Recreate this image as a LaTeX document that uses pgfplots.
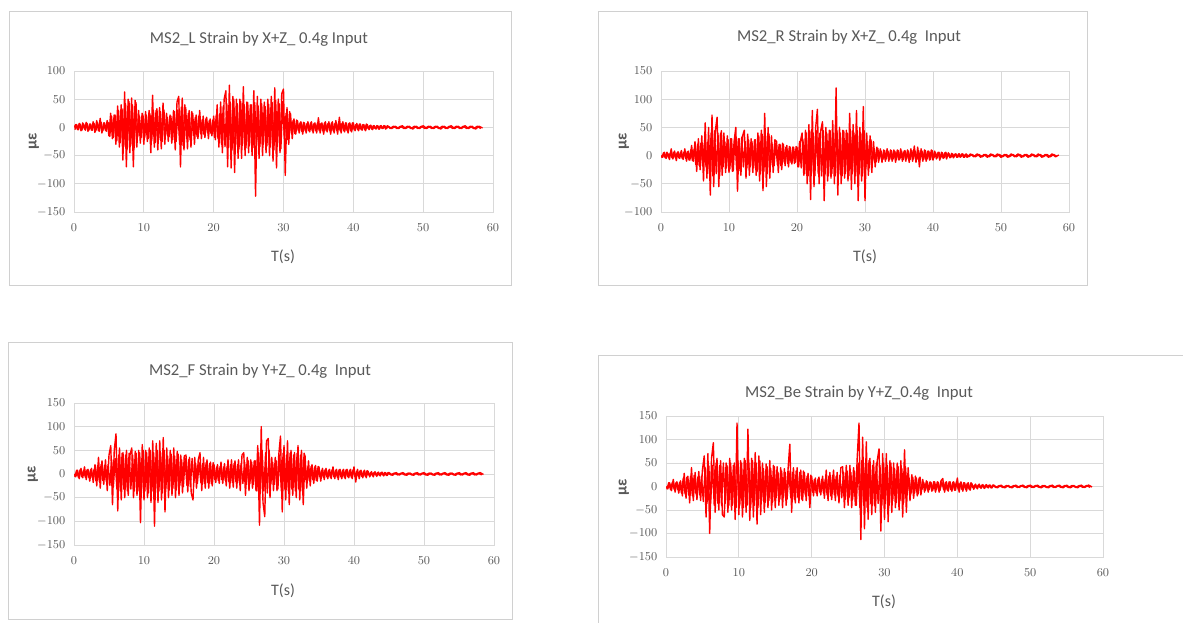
\documentclass[border=0pt]{standalone}
\usepackage{fontspec}
\setmainfont{Carlito}
\usepackage{pgfplots}
\pgfplotsset{compat=1.18}
\usepackage{pgfplotstable}

\definecolor{txtgray}{HTML}{595959}
\definecolor{gridgray}{HTML}{D9D9D9}
\definecolor{framegray}{HTML}{D0D0D0}

% strain records, micro-strain (peaks)
\pgfplotstableread{
t L R F Be
0 0 0 0 0
0.25 5 -3 -6 -5
0.5 -4 6 8 8
0.75 7 -5 -10 -9
1.0 -6 4 12 15
1.25 8 -7 -8 -12
1.5 -3 12 15 10
1.75 9 -6 -12 -14
2.0 -7 8 10 12
2.25 6 -9 -15 -20
2.5 -5 7 12 28
2.75 10 -5 -18 -25
3.0 -9 9 20 22
3.25 12 -7 -25 -35
3.5 -6 12 35 40
3.75 16 -10 -30 -30
4.0 -10 8 28 30
4.25 8 -8 -22 -28
4.5 -5 18 30 32
4.75 12 -10 -35 -30
5.0 -15 25 40 35
5.25 25 -28 60 65
5.5 -20 30 -65 -65
5.75 22 -25 50 70
6.0 -30 35 85 -100
6.25 38 -45 -78 60
6.5 -35 58 55 93
6.75 40 -40 -55 -55
7.0 -58 50 45 60
7.25 63 -70 -50 -50
7.5 -70 72 50 55
7.75 50 -55 -45 -60
8.0 -45 45 40 -65
8.25 52 68 55 50
8.5 -70 -55 -50 -55
8.75 48 40 48 60
9.0 -35 -35 -45 -50
9.25 30 40 50 45
9.5 -28 -30 -103 -70
9.75 25 35 62 135
10.0 -30 -30 -55 -60
10.25 28 30 50 55
10.5 -25 -28 -50 -65
10.75 30 25 55 60
11.0 -45 50 -60 -55
11.25 57 -63 70 122
11.5 -35 30 -110 -72
11.75 30 -35 65 60
12.0 -40 35 -60 -65
12.25 35 45 70 72
12.5 -38 -40 -55 -80
12.75 43 38 77 65
13.0 -30 -35 -80 -60
13.25 25 30 55 50
13.5 -25 -30 -50 -55
13.75 22 28 50 48
14.0 -28 -35 -45 -45
14.25 30 40 55 55
14.5 -40 -45 -50 -50
14.75 45 45 48 45
15.0 55 -62 -45 -45
15.25 -70 75 40 42
15.5 52 -55 -40 -40
15.75 -40 50 38 40
16.0 35 -40 40 -45
16.25 -38 35 -38 38
16.5 30 -30 35 -40
16.75 -35 28 -40 35
17.0 25 25 -55 90
17.25 -30 -30 35 -55
17.5 22 20 -30 40
17.75 -20 -25 30 -35
18.0 30 20 45 40
18.25 -20 -18 -35 -35
18.5 20 18 35 35
18.75 -18 -20 -30 -30
19.0 18 15 30 30
19.25 -20 -15 -30 -30
19.5 15 15 25 28
19.75 -15 -12 -25 -45
20.0 20 15 20 22
20.25 -22 -20 -18 -20
20.5 40 25 20 18
20.75 -35 40 -20 -20
21.0 45 -35 25 20
21.25 -45 45 -20 -18
21.5 50 -50 22 22
21.75 65 55 -25 -25
22.0 -70 -78 30 35
22.25 75 80 -30 -30
22.5 -72 -55 30 30
22.75 55 50 -28 -28
23.0 -80 82 28 35
23.25 50 -50 -30 -30
23.5 -55 45 30 30
23.75 50 60 -35 -35
24.0 -55 -80 40 40
24.25 72 50 45 42
24.5 -50 -45 -45 -45
24.75 45 45 35 45
25.0 -45 -40 -35 -40
25.25 40 62 30 45
25.5 -50 -50 -30 -45
25.75 65 120 28 40
26.0 -122 -70 -35 -40
26.25 55 50 60 60
26.5 -55 -50 -108 135
26.75 50 45 100 -113
27.0 -50 -40 -60 105
27.25 45 45 -90 -90
27.5 -45 -45 70 95
27.75 50 75 75 -70
28.0 -50 -60 -50 60
28.25 55 55 35 -60
28.5 -60 -50 -35 55
28.75 70 80 35 -55
29.0 -72 -80 -35 55
29.25 50 50 40 80
29.5 -45 -45 80 -95
29.75 60 87 -80 70
30.0 68 -80 60 -70
30.25 -85 40 -55 70
30.5 35 -35 70 -75
30.75 -30 35 -65 55
31.0 25 -30 50 -55
31.25 -20 25 -45 50
31.5 15 -20 45 -45
31.75 -12 15 -50 50
32.0 12 -12 60 -50
32.25 -10 12 -55 55
32.5 10 -12 50 -65
32.75 -12 10 -65 78
33.0 8 -10 40 -55
33.25 -10 12 -30 40
33.5 10 -10 28 -30
33.75 -8 10 -25 25
34.0 10 -10 20 -25
34.25 -10 10 -20 22
34.5 8 -12 18 -20
34.75 -10 10 -15 18
35.0 17 -8 15 -18
35.25 -10 12 -15 15
35.5 8 -10 12 -12
35.75 -12 8 -12 12
36.0 10 -10 12 -12
36.25 -8 10 -10 10
36.5 10 -12 10 -10
36.75 -12 12 -10 10
37.0 10 -10 15 -12
37.25 -10 17 -10 10
37.5 12 -12 10 -12
37.75 -12 15 -12 12
38.0 18 -20 10 17
38.25 -10 12 -10 -12
38.5 10 -10 10 10
38.75 -8 10 -10 -10
39.0 8 -10 10 10
39.25 -10 8 -8 -10
39.5 8 -8 10 10
39.75 -8 10 -10 -8
40.0 8 -8 15 18
40.25 -6 8 -17 -12
40.5 7 -6 10 10
40.75 -6 6 -10 -10
41.0 6 -8 8 8
41.25 -5 6 -8 -10
41.5 5 -5 8 8
41.75 -6 5 -8 -8
42.0 5 -6 6 6
42.25 -4 5 -6 -6
42.5 4 -4 5 5
42.75 -4 4 -6 -5
43.0 3 -4 5 5
43.25 -3 3 -5 -4
43.5 3 -3 4 4
43.75 -3 3 -4 -4
44.0 3 -3 4 4
44.25 -2 3 -4 -3
44.5 3 -3 3 3
44.75 -2 2 -3 -3
45.0 2 -3 3 3
45.5 -2 3 -3 -3
46.0 2 -2 3 3
46.5 -2 3 -2 -3
47.0 3 -3 3 2
47.5 -2 2 -3 -3
48.0 2 -3 2 3
48.5 -3 3 -3 -2
49.0 2 -2 3 3
49.5 -2 3 -2 -3
50.0 3 -3 3 3
50.5 -2 2 -3 -2
51.0 2 -3 2 3
51.5 -2 3 -3 -3
52.0 2 -2 3 2
52.5 -3 3 -2 -3
53.0 2 -3 3 3
53.5 -2 2 -3 -2
54.0 3 -3 2 3
54.5 -2 3 -3 -3
55.0 2 -2 3 3
55.5 -2 3 -2 -3
56.0 3 -3 3 2
56.5 -2 2 -3 -3
57.0 2 -3 3 3
57.5 -3 3 -2 -2
58.0 2 -2 3 3
58.5 -1 1 -1 -1
}\strain

% in-between samples (the dense core of each record)
\pgfplotstableread{
t L R F Be
0.125 -4 -4 -6 -6
0.375 5 5 8 8
0.625 -4 -4 -7 -7
0.875 6 6 9 9
1.125 -5 -4 -6 -6
1.375 6 5 8 8
1.625 -5 -4 -7 -7
1.875 7 6 9 9
2.125 -5 -4 -7 -14
2.375 6 5 9 18
2.625 -5 -4 -8 -16
2.875 7 6 10 20
3.125 -6 -5 -14 -18
3.375 8 6 18 22
3.625 -7 -5 -16 -20
3.875 9 7 20 24
4.125 -6 -8 -14 -16
4.375 8 10 18 20
4.625 -7 -9 -16 -18
4.875 9 11 20 22
5.125 -16 -16 -24 -32
5.375 20 20 30 40
5.625 -18 -18 -27 -36
5.875 22 22 33 44
6.125 -24 -18 -32 -36
6.375 30 22 40 45
6.625 -27 -20 -36 -40
6.875 33 24 44 50
7.125 -34 -32 -32 -36
7.375 42 40 40 45
7.625 -38 -36 -36 -40
7.875 46 44 44 50
8.125 -32 -32 -32 -36
8.375 40 40 40 45
8.625 -36 -36 -36 -40
8.875 44 44 44 50
9.125 -16 -20 -36 -40
9.375 20 25 45 50
9.625 -18 -22 -40 -45
9.875 22 28 50 55
10.125 -18 -24 -36 -40
10.375 22 30 45 50
10.625 -20 -27 -40 -45
10.875 24 33 50 55
11.125 -24 -24 -36 -40
11.375 30 30 45 50
11.625 -27 -27 -40 -45
11.875 33 33 50 55
12.125 -22 -20 -36 -40
12.375 28 25 45 50
12.625 -25 -22 -40 -45
12.875 31 28 50 55
13.125 -14 -20 -30 -30
13.375 18 25 38 38
13.625 -16 -22 -34 -34
13.875 20 28 42 42
14.125 -22 -28 -30 -30
14.375 28 35 38 38
14.625 -25 -32 -34 -34
14.875 31 38 42 42
15.125 -29 -28 -24 -24
15.375 36 35 30 30
15.625 -32 -32 -27 -27
15.875 40 38 33 33
16.125 -20 -16 -24 -24
16.375 25 20 30 30
16.625 -22 -18 -27 -27
16.875 28 22 33 33
17.125 -14 -16 -18 -24
17.375 18 20 22 30
17.625 -16 -18 -20 -27
17.875 20 22 24 33
18.125 -11 -12 -18 -24
18.375 14 15 22 30
18.625 -13 -14 -20 -27
18.875 15 16 24 33
19.125 -10 -12 -18 -18
19.375 12 15 22 22
19.625 -11 -14 -20 -20
19.875 13 16 24 24
20.125 -18 -20 -12 -12
20.375 22 25 15 15
20.625 -20 -22 -14 -14
20.875 24 28 16 16
21.125 -30 -32 -12 -12
21.375 38 40 15 15
21.625 -34 -36 -14 -14
21.875 42 44 16 16
22.125 -36 -32 -16 -18
22.375 45 40 20 22
22.625 -40 -36 -18 -20
22.875 50 44 22 24
23.125 -34 -32 -16 -18
23.375 42 40 20 22
23.625 -38 -36 -18 -20
23.875 46 44 22 24
24.125 -32 -32 -20 -24
24.375 40 40 25 30
24.625 -36 -36 -22 -27
24.875 44 44 28 33
25.125 -32 -32 -20 -24
25.375 40 40 25 30
25.625 -36 -36 -22 -27
25.875 44 44 28 33
26.125 -30 -32 -36 -40
26.375 38 40 45 50
26.625 -34 -36 -40 -45
26.875 42 44 50 55
27.125 -30 -32 -36 -40
27.375 37 40 45 50
27.625 -33 -36 -40 -45
27.875 41 44 50 55
28.125 -35 -32 -20 -36
28.375 44 40 25 45
28.625 -40 -36 -22 -40
28.875 48 44 28 50
29.125 -34 -32 -32 -36
29.375 42 40 40 45
29.625 -38 -36 -36 -40
29.875 46 44 44 50
30.125 -20 -20 -32 -36
30.375 25 25 40 45
30.625 -22 -22 -36 -40
30.875 28 28 44 50
31.125 -10 -10 -32 -30
31.375 12 12 40 38
31.625 -11 -11 -36 -34
31.875 13 13 44 42
32.125 -6 -6 -32 -30
32.375 8 8 40 38
32.625 -7 -7 -36 -34
32.875 9 9 44 42
33.125 -6 -6 -12 -14
33.375 7 8 15 18
33.625 -6 -7 -14 -16
33.875 8 9 16 20
34.125 -6 -6 -12 -14
34.375 7 8 15 18
34.625 -6 -7 -14 -16
34.875 8 9 16 20
35.125 -6 -6 -6 -7
35.375 7 8 8 9
35.625 -6 -7 -7 -8
35.875 8 9 9 10
36.125 -6 -6 -6 -7
36.375 7 8 8 9
36.625 -6 -7 -7 -8
36.875 8 9 9 10
37.125 -6 -6 -6 -7
37.375 7 8 8 9
37.625 -6 -7 -7 -8
37.875 8 9 9 10
38.125 -6 -6 -6 -7
38.375 7 8 8 9
38.625 -6 -7 -7 -8
38.875 8 9 9 10
39.125 -6 -6 -6 -7
39.375 7 8 8 9
39.625 -6 -7 -7 -8
39.875 8 9 9 10
40.125 -4 -4 -5 -6
40.375 5 5 6 7
40.625 -4 -4 -5 -6
40.875 6 6 7 8
41.125 -4 -4 -5 -6
41.375 5 5 6 7
41.625 -4 -4 -5 -6
41.875 6 6 7 8
42.125 -2 -2 -2 -2
42.375 3 3 3 3
42.625 -3 -3 -3 -3
42.875 3 3 3 3
43.125 -2 -2 -2 -2
43.375 3 3 3 3
43.625 -3 -3 -3 -3
43.875 3 3 3 3
44.125 -2 -2 -2 -2
44.375 3 3 3 3
44.625 -3 -3 -3 -3
44.875 3 3 3 3
45.25 -2 -2 -2 -2
45.75 2 2 2 2
46.25 -2 -2 -2 -2
46.75 2 2 2 2
47.25 -2 -2 -2 -2
47.75 2 2 2 2
48.25 -2 -2 -2 -2
48.75 2 2 2 2
49.25 -2 -2 -2 -2
49.75 2 2 2 2
50.25 -2 -2 -2 -2
50.75 2 2 2 2
51.25 -2 -2 -2 -2
51.75 2 2 2 2
52.25 -2 -2 -2 -2
52.75 2 2 2 2
53.25 -2 -2 -2 -2
53.75 2 2 2 2
54.25 -2 -2 -2 -2
54.75 2 2 2 2
55.25 -2 -2 -2 -2
55.75 2 2 2 2
56.25 -2 -2 -2 -2
56.75 2 2 2 2
57.25 -2 -2 -2 -2
57.75 2 2 2 2
58.25 -2 -2 -2 -2
}\straincore

\pgfplotsset{
  strainax/.style={
    scale only axis, anchor=south west,
    xmin=0, xmax=60, xtick={0,10,...,60},
    grid=major, grid style={gridgray, line width=0.6pt},
    axis line style={gridgray, line width=0.6pt},
    major tick length=0pt,
    tick label style={font=\fontsize{9}{10}\selectfont, text=txtgray},
    xticklabel style={yshift=-5pt},
    yticklabel style={xshift=-3pt},
  },
  sig/.style={red, line width=1.05pt, line join=round, no markers},
}

\begin{document}
\begin{tikzpicture}[x=0.75pt, y=0.75pt]
\path[use as bounding box] (0,0) rectangle (1183,623);

% chart frames
\draw[framegray, line width=0.75pt] (9,337) rectangle (511,611);
\draw[framegray, line width=0.75pt] (598,337) rectangle (1087,611);
\draw[framegray, line width=0.75pt] (8,3) rectangle (512,280);
\draw[framegray, line width=0.75pt] (598,0) -- (598,267) -- (1183,267);

\coordinate (p1) at (74,411);
\coordinate (p2) at (661,411);
\coordinate (p3) at (74,78);
\coordinate (p4) at (666,66);

\begin{axis}[strainax, at={(p1)}, width=314.25pt, height=105.75pt,
  ymin=-150, ymax=100, ytick={-150,-100,...,100}]
\addplot[sig] table[x=t, y=L] {\straincore};
\addplot[sig] table[x=t, y=L] {\strain};
\end{axis}

\begin{axis}[strainax, at={(p2)}, width=306pt, height=105.75pt,
  ymin=-100, ymax=150, ytick={-100,-50,...,150}]
\addplot[sig] table[x=t, y=R] {\straincore};
\addplot[sig] table[x=t, y=R] {\strain};
\end{axis}

\begin{axis}[strainax, at={(p3)}, width=315pt, height=106.5pt,
  ymin=-150, ymax=150, ytick={-150,-100,...,150}]
\addplot[sig] table[x=t, y=F] {\straincore};
\addplot[sig] table[x=t, y=F] {\strain};
\end{axis}

\begin{axis}[strainax, at={(p4)}, width=327.75pt, height=105.75pt,
  ymin=-150, ymax=150, ytick={-150,-100,...,150}]
\addplot[sig] table[x=t, y=Be] {\straincore};
\addplot[sig] table[x=t, y=Be] {\strain};
\end{axis}

% titles
\tikzset{ttl/.style={text=txtgray, font=\fontsize{12.5}{14}\selectfont},
  lab/.style={text=txtgray, font=\fontsize{12}{14}\selectfont}}
\node[ttl] at (259,584) {MS2\_L Strain by X+Z\_ 0.4g Input};
\node[ttl] at (849,586) {MS2\_R Strain by X+Z\_ 0.4g\ \ Input};
\node[ttl] at (260,252) {MS2\_F Strain by Y+Z\_ 0.4g\ \ Input};
\node[ttl] at (859,230) {MS2\_Be Strain by Y+Z\_0.4g\ \ Input};

% axis labels
\node[lab] at (283,366) {T(s)};
\node[lab] at (865,366) {T(s)};
\node[lab] at (283,32) {T(s)};
\node[lab] at (884,21) {T(s)};
\node[lab, rotate=90, font=\fontsize{12}{14}\bfseries] at (34,482) {με};
\node[lab, rotate=90, font=\fontsize{12}{14}\bfseries] at (624,482) {με};
\node[lab, rotate=90, font=\fontsize{12}{14}\bfseries] at (33,149) {με};
\node[lab, rotate=90, font=\fontsize{12}{14}\bfseries] at (624,136) {με};
\end{tikzpicture}
\end{document}
